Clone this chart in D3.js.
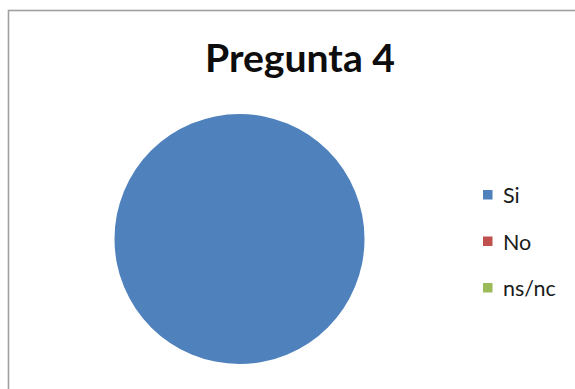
<!DOCTYPE html>
<html>
<head>
<meta charset="utf-8">
<script src="https://cdn.jsdelivr.net/npm/d3@7"></script>
<style>
  html, body { margin: 0; padding: 0; background: #ffffff; }
  svg { display: block; }
</style>
</head>
<body>
<svg id="chart" width="575" height="389"></svg>
<script>
// Survey answers for question 4
const title = "Pregunta 4";
const categories = ["Si", "No", "ns/nc"];
const values = [100, 0, 0];
const colors = ["#4F81BD", "#C0504D", "#9BBB59"];

const W = 575, H = 389;
const svg = d3.select("#chart");

// chart area frame (runs off the right and bottom edges)
svg.append("rect")
  .attr("x", 8.5).attr("y", 10.5)
  .attr("width", W + 20).attr("height", H + 20)
  .attr("fill", "#ffffff")
  .attr("stroke", "#a0a0a0")
  .attr("stroke-width", 1.6);

// title
svg.append("text")
  .attr("x", 300).attr("y", 72)
  .attr("text-anchor", "middle")
  .attr("font-family", "Lato, 'Open Sans', sans-serif")
  .attr("font-weight", "bold")
  .attr("font-size", 38)
  .attr("fill", "#0d0d0d")
  .attr("textLength", 190)
  .attr("lengthAdjust", "spacingAndGlyphs")
  .text(title);

// pie
const cx = 239.5, cy = 239, r = 125;
const data = categories.map((c, i) => ({ name: c, value: values[i] }));
const pie = d3.pie().value(d => d.value).sort(null);
const arc = d3.arc().innerRadius(0).outerRadius(r);
const color = d3.scaleOrdinal().domain(categories).range(colors);

svg.append("g")
  .attr("transform", `translate(${cx},${cy})`)
  .selectAll("path")
  .data(pie(data))
  .join("path")
  .attr("d", arc)
  .attr("fill", d => color(d.data.name));

// legend
const legendY = d3.scalePoint().domain(categories).range([195, 288]);
const leg = svg.append("g").selectAll("g")
  .data(categories)
  .join("g")
  .attr("transform", d => `translate(483,${legendY(d)})`);

leg.append("rect")
  .attr("x", 0).attr("y", -5)
  .attr("width", 9.5).attr("height", 9.5)
  .attr("fill", d => color(d));

leg.append("text")
  .attr("x", 20).attr("y", 8)
  .attr("font-family", "Lato, 'Open Sans', sans-serif")
  .attr("font-size", 21.5)
  .attr("fill", "#1a1a1a")
  .text(d => d);
</script>
</body>
</html>
